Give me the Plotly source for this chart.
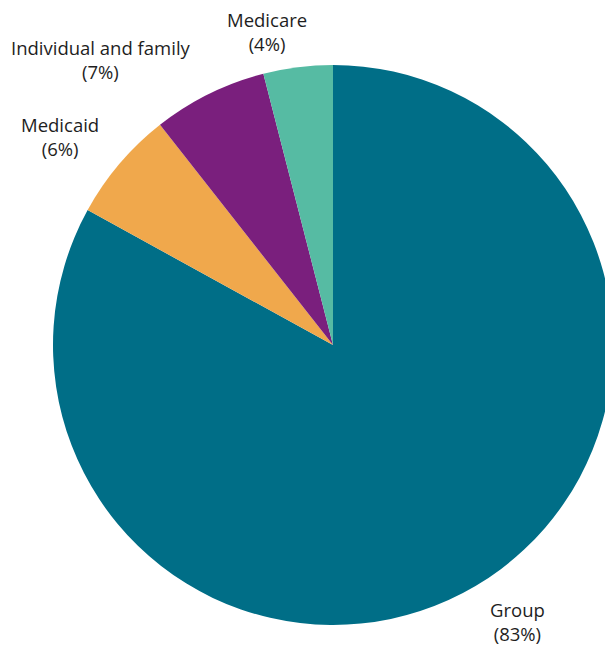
import plotly.graph_objects as go

categories = ["Group", "Medicaid", "Individual and family", "Medicare"]
values = [83.0, 6.4, 6.6, 4.0]
pct_labels = ["83%", "6%", "7%", "4%"]
colors = ["#006e87", "#f0a84c", "#7a1f7d", "#56bba3"]

W, H = 666, 646
L, R, T, B = 53, 53, 65, 21

fig = go.Figure(go.Pie(
    labels=categories,
    values=values,
    sort=False,
    direction="clockwise",
    rotation=0,
    marker=dict(colors=colors, line=dict(width=0)),
    textinfo="none",
    hoverinfo="skip",
    showlegend=False,
))

# label anchor pixels (centre of two-line label)
label_px = {
    "Group": (517, 621),
    "Medicaid": (60, 136),
    "Individual and family": (101, 59),
    "Medicare": (267, 31),
}
pw, ph = W - L - R, H - T - B
for cat, pct in zip(categories, pct_labels):
    px, py = label_px[cat]
    fig.add_annotation(
        x=(px - L) / pw, y=(H - B - py) / ph, xref="paper", yref="paper",
        text=f"{cat}<br>({pct})", showarrow=False,
        xanchor="center", yanchor="middle",
        font=dict(family="Open Sans", size=18.5, color="#1e1e1e"),
        align="center",
    )

fig.update_layout(
    width=W, height=H, autosize=False,
    margin=dict(l=L, r=R, t=T, b=B),
    paper_bgcolor="white", plot_bgcolor="white",
)

fig.write_html("out.html", post_script="document.body.style.overflow='hidden';document.body.style.margin='0';")
